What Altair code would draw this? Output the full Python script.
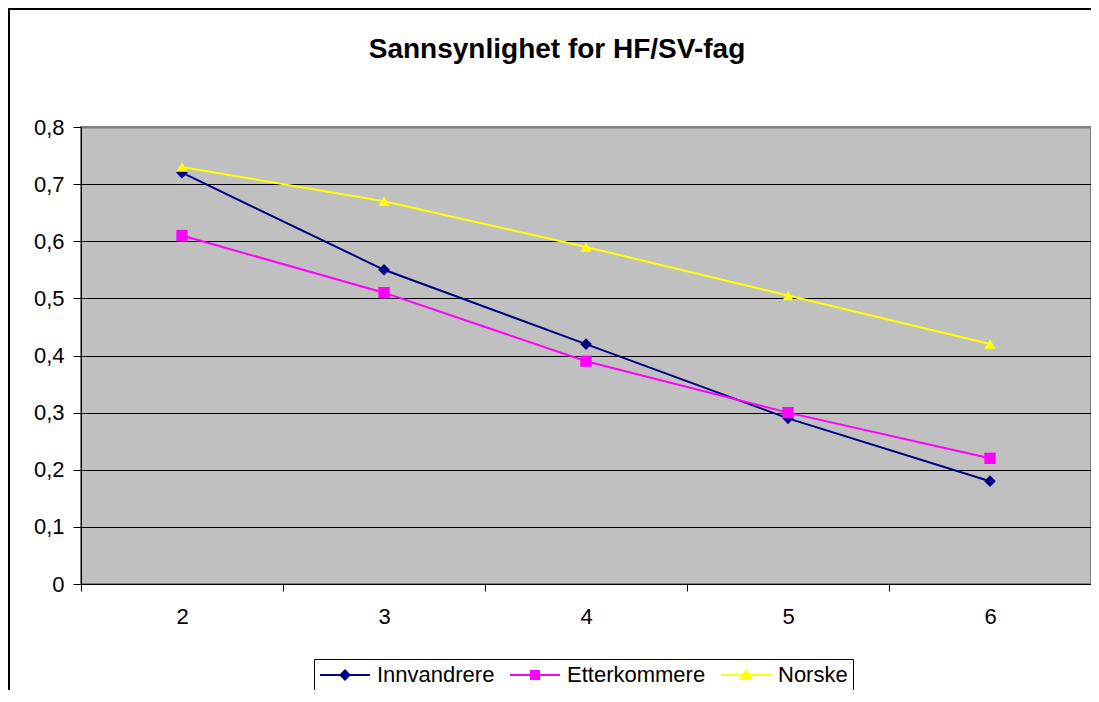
import altair as alt
import pandas as pd

# ---- data ----
categories = [2, 3, 4, 5, 6]
series_names = ["Innvandrere", "Etterkommere", "Norske"]
innvandrere = [0.72, 0.55, 0.42, 0.29, 0.18]
etterkommere = [0.61, 0.51, 0.39, 0.30, 0.22]
norske = [0.73, 0.67, 0.59, 0.505, 0.42]
y_ticks = [0, 0.1, 0.2, 0.3, 0.4, 0.5, 0.6, 0.7, 0.8]
title_text = "Sannsynlighet for HF/SV-fag"

# ---- styles ----
series_colors = ["#000080", "#FF00FF", "#FFFF00"]
marker_shapes = ["diamond", "square", "triangle-up"]
marker_sizes = [135, 121, 165]
legend_paths = [
    "M-1,0H4M1.5,-0.45L1.95,0L1.5,0.45L1.05,0Z",
    "M-1,0H4M1.1,-0.4H1.9V0.4H1.1Z",
    "M-1,0H4M1.5,-0.45L2.05,0.4H0.95Z",
]
FONT = "Liberation Sans"

rows = []
for name, vals in zip(series_names, [innvandrere, etterkommere, norske]):
    for c, v in zip(categories, vals):
        rows.append({"kategori": c, "verdi": v, "serie": name})
df = pd.DataFrame(rows)

x_bounds = [c - 0.5 for c in categories] + [categories[-1] + 0.5]
x_values = sorted(set(x_bounds + categories))

x_enc = alt.X(
    "kategori:Q",
    scale=alt.Scale(domain=[x_bounds[0], x_bounds[-1]], nice=False, zero=False),
    axis=alt.Axis(
        values=x_values,
        title=None,
        grid=False,
        labelExpr="datum.value % 1 === 0 ? format(datum.value, 'd') : ''",
        tickOpacity=alt.condition("datum.value % 1 === 0", alt.value(0), alt.value(1)),
        tickSize=7,
        tickColor="black",
        domainColor="black",
        labelFont=FONT,
        labelFontSize=22,
        labelColor="black",
        labelPadding=15,
        labelOverlap=False,
        labelFlush=False,
    ),
)
y_enc = alt.Y(
    "verdi:Q",
    scale=alt.Scale(domain=[0, 0.8], nice=False),
    axis=alt.Axis(
        values=y_ticks,
        title=None,
        grid=True,
        gridColor=alt.condition("datum.value > 0.75", alt.value("#808080"), alt.value("black")),
        gridWidth=alt.condition("datum.value > 0.75", alt.value(2), alt.value(1)),
        labelExpr="datum.value === 0 ? '0' : replace(format(datum.value, '.1f'), '.', ',')",
        tickSize=8,
        tickColor="black",
        domainColor="black",
        labelFont=FONT,
        labelFontSize=22,
        labelColor="black",
        labelPadding=9,
        labelOverlap=False,
        labelFlush=False,
    ),
)

color_scale = alt.Scale(domain=series_names, range=series_colors)

base = alt.Chart(df)

lines = base.mark_line(strokeWidth=2).encode(
    x=x_enc, y=y_enc,
    color=alt.Color("serie:N", scale=color_scale, legend=None),
)

points = base.mark_point(filled=True, opacity=1).encode(
    x=x_enc, y=y_enc,
    color=alt.Color("serie:N", scale=color_scale, legend=None),
    shape=alt.Shape("serie:N", scale=alt.Scale(domain=series_names, range=marker_shapes), legend=None),
    size=alt.Size("serie:N", scale=alt.Scale(domain=series_names, range=marker_sizes), legend=None),
)

leg = alt.Legend(
    title=None,
    orient="none",
    legendX=233,
    legendY=532,
    direction="horizontal",
    symbolSize=400,
    symbolStrokeWidth=2,
    symbolOpacity=1,
    labelFont=FONT,
    labelFontSize=22,
    labelColor="black",
    labelOffset=36,
    labelLimit=400,
    columnPadding=11,
    padding=5,
    strokeColor="black",
    fillColor="white",
)

legend_layer = base.mark_point(filled=True, opacity=0, size=400).encode(
    x=x_enc, y=y_enc,
    fill=alt.Fill("serie:N", scale=alt.Scale(domain=series_names, range=series_colors), legend=leg),
    stroke=alt.Stroke("serie:N", scale=alt.Scale(domain=series_names, range=series_colors), legend=leg),
    shape=alt.Shape("serie:N", scale=alt.Scale(domain=series_names, range=legend_paths), legend=leg),
)

frame_top = alt.Chart(alt.Data(values=[{}])).mark_rule(color="black", strokeWidth=2).encode(
    x=alt.value(-73), x2=alt.value(1020), y=alt.value(-118)
)
frame_left = alt.Chart(alt.Data(values=[{}])).mark_rule(color="black", strokeWidth=2).encode(
    x=alt.value(-72), y=alt.value(-119), y2=alt.value(600)
)
# white strips along the canvas' far right edge, outside the plot area only
edge_cover_top = alt.Chart(alt.Data(values=[{}])).mark_rule(color="white", strokeWidth=4).encode(
    x=alt.value(1011), y=alt.value(-117), y2=alt.value(-2)
)
edge_cover_bottom = alt.Chart(alt.Data(values=[{}])).mark_rule(color="white", strokeWidth=4).encode(
    x=alt.value(1011), y=alt.value(459), y2=alt.value(600)
)

title = alt.Chart(alt.Data(values=[{"t": title_text}])).mark_text(
    font=FONT, fontSize=28, fontWeight="bold", color="black", align="center", baseline="alphabetic"
).encode(text="t:N", x=alt.value(476), y=alt.value(-69))

chart = (
    alt.layer(frame_top, frame_left, edge_cover_top, edge_cover_bottom, lines, points, legend_layer, title)
    .resolve_scale(shape="independent", fill="independent", stroke="independent")
    .properties(
        width=1010,
        height=457,
        autosize=alt.AutoSizeParams(type="none"),
        padding={"left": 73, "top": 119, "right": 0, "bottom": 106},
        background="white",
    )
    .configure_view(fill="#C0C0C0", stroke="#808080", strokeWidth=2)
)

chart.save("out.html", embed_options={"renderer": "svg", "actions": False})
